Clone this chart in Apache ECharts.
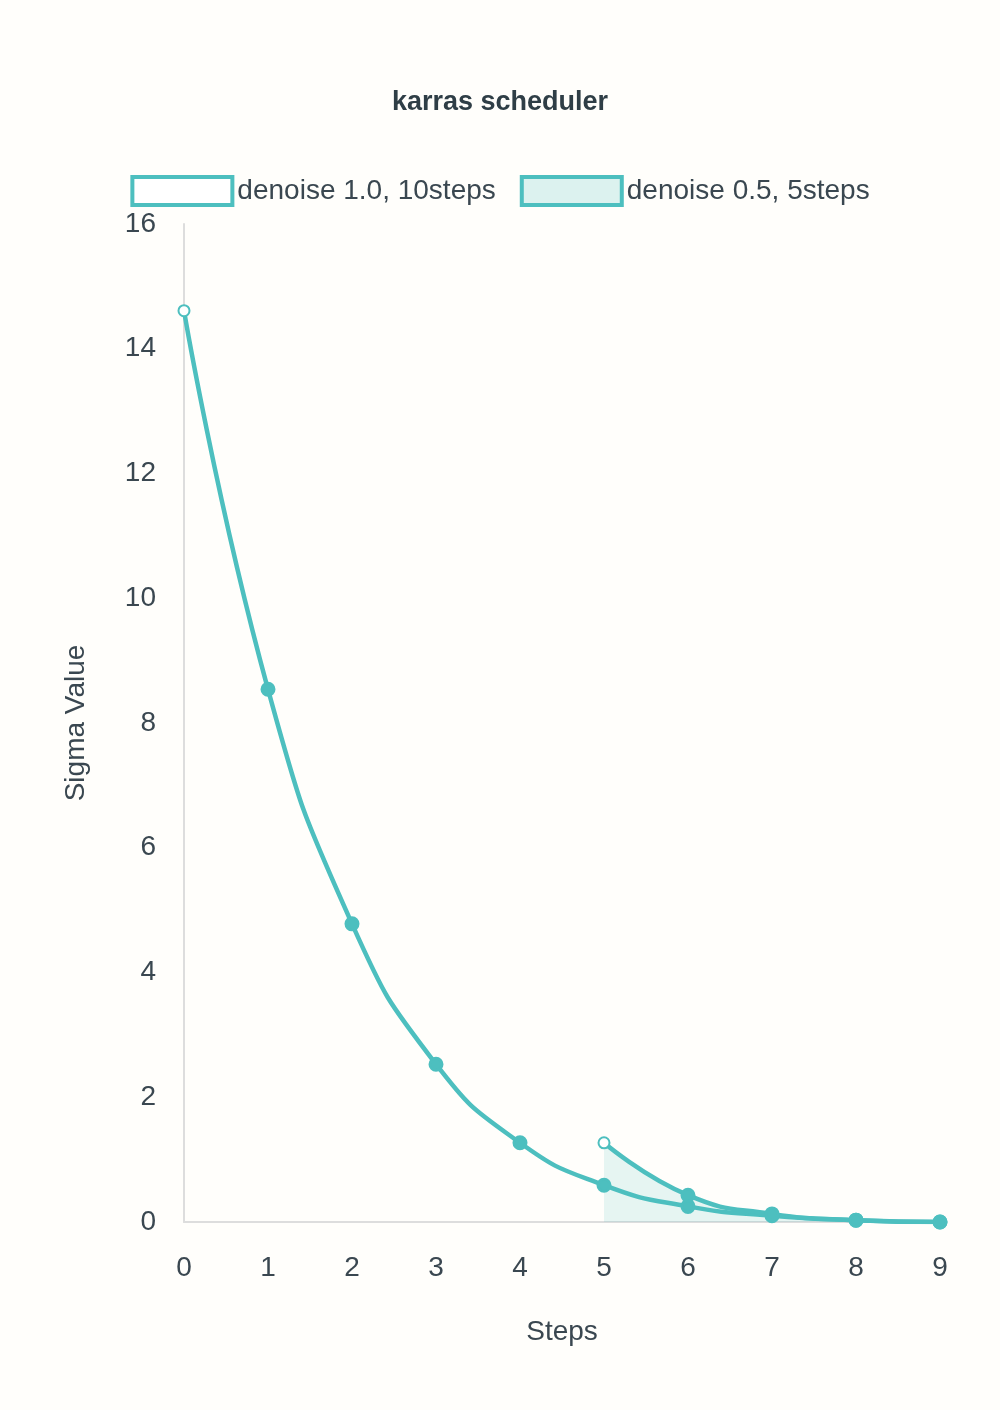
<!DOCTYPE html>
<html><head><meta charset="utf-8">
<script src="https://cdn.jsdelivr.net/npm/echarts@6/dist/echarts.min.js"></script>
<style>html,body{margin:0;padding:0;background:#fffefb}#c{width:1000px;height:1410px}</style>
</head><body><div id="c"></div>
<script>
const steps = ['0','1','2','3','4','5','6','7','8','9'];
const fullSigmas = [14.61, 8.54, 4.78, 2.53, 1.27, 0.59, 0.25, 0.10, 0.03, 0];
const halfSigmas = ['-', '-', '-', '-', '-', 1.27, 0.43, 0.13, 0.03, 0];
const color = '#4dbfbf';
const font = '"Liberation Sans", Arial, sans-serif';
function pts(arr){
  let first = true;
  return arr.map(v => {
    if (v === '-') return '-';
    if (first){ first=false; return {value:v, symbol:'emptyCircle', symbolSize:11}; }
    return {value:v, symbol:'circle'};
  });
}
const chart = echarts.init(document.getElementById('c'));
chart.setOption({
  backgroundColor:'#fffefb',
  textStyle:{fontFamily:font},
  title:{text:'karras scheduler', left:'center', top:84, textStyle:{fontSize:27, fontWeight:'bold', color:'#2f3e46', fontFamily:font}},
  legend:{top:170, left:'center', itemWidth:100, itemHeight:28, itemGap:24, textStyle:{fontSize:28, color:'#3a4750', fontFamily:font},
    data:[
      {name:'denoise 1.0, 10steps', icon:'rect', itemStyle:{color:'#ffffff', borderColor:color, borderWidth:4}},
      {name:'denoise 0.5, 5steps', icon:'rect', itemStyle:{color:'#dcf2ef', borderColor:color, borderWidth:4}}
    ]},
  grid:{left:184, right:60, top:224, bottom:188},
  xAxis:{type:'category', data:steps, boundaryGap:false, name:'Steps', nameLocation:'middle', nameGap:96,
    nameTextStyle:{fontSize:28, color:'#3a4750', fontFamily:font},
    axisLine:{lineStyle:{color:'#dddddd', width:2}}, axisTick:{show:false},
    axisLabel:{fontSize:28, color:'#3a4750', margin:32, fontFamily:font}},
  yAxis:{type:'value', min:0, max:16, interval:2, name:'Sigma Value', nameLocation:'middle', nameGap:94,
    nameTextStyle:{fontSize:28, color:'#3a4750', fontFamily:font},
    axisLine:{show:true, lineStyle:{color:'#dddddd', width:2}}, axisTick:{show:false}, splitLine:{show:false},
    axisLabel:{fontSize:28, color:'#3a4750', margin:28, fontFamily:font}},
  series:[
    {name:'denoise 1.0, 10steps', type:'line', smooth:true, data:pts(fullSigmas), symbolSize:12,
      itemStyle:{color:color, borderColor:color, borderWidth:3}, lineStyle:{color:color, width:4.5}},
    {name:'denoise 0.5, 5steps', type:'line', smooth:true, data:pts(halfSigmas), symbolSize:12,
      itemStyle:{color:color, borderColor:color, borderWidth:3}, lineStyle:{color:color, width:4.5},
      areaStyle:{color:'rgba(77,191,191,0.2)'}}
  ]
});
</script></body></html>
